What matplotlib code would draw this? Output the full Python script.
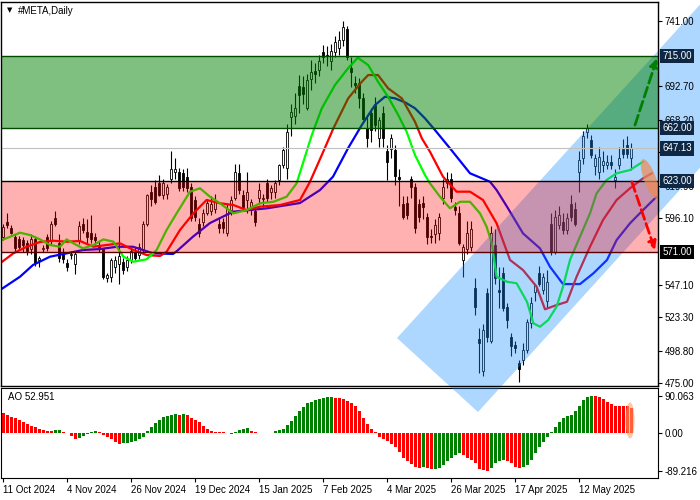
import matplotlib
matplotlib.use("Agg")
import matplotlib.pyplot as plt
import numpy as np
from matplotlib.patches import Polygon, Ellipse
from matplotlib.transforms import IdentityTransform, ScaledTranslation

plt.rcParams["font.family"] = ["Liberation Sans", "DejaVu Sans"]

# daily candles, 11 Oct 2024 .. end of May 2025
opens = [582, 593, 589, 582, 581, 580, 578, 573, 581, 565,
         573, 582, 579, 596, 578, 570, 563, 569, 562, 579,
         592, 586, 585, 582, 576, 573, 552, 553, 560, 562,
         564, 560, 565, 571, 569, 573, 592, 615, 619, 622,
         613, 614, 625, 630, 630, 629, 626, 619, 609, 592,
         593, 600, 601, 603, 592, 593, 585, 602, 611, 629,
         613, 609, 603, 601, 611, 610, 622, 615, 615, 624,
         635, 633, 670, 671, 693, 692, 677, 698, 704, 705,
         718, 716, 711, 718, 721, 727, 735, 706, 695, 695,
         684, 662, 673, 679, 655, 673, 645, 647, 646, 626,
         606, 607, 625, 619, 606, 607, 597, 583, 584, 585,
         611, 622, 625, 604, 600, 565, 573, 575, 545, 507,
         484, 541, 506, 576, 543, 556, 531, 509, 503, 490,
         492, 499, 519, 542, 556, 543, 535, 592, 571, 591,
         593, 587, 606, 603, 630, 640, 659, 653, 634, 630,
         635, 635, 637, 624, 635, 647, 650, 640]
highs = [592, 600, 591, 584, 583, 582, 580, 584, 583, 568,
         576, 584, 594, 601, 584, 574, 566, 572, 572, 594,
         596, 595, 598, 585, 579, 574, 556, 567, 568, 590,
         567, 568, 574, 575, 578, 594, 614, 620, 624, 628,
         625, 621, 645, 640, 633, 632, 633, 622, 612, 596,
         603, 610, 612, 614, 597, 596, 606, 612, 636, 636,
         617, 630, 610, 604, 622, 614, 625, 620, 624, 636,
         648, 665, 680, 688, 701, 700, 702, 712, 710, 716,
         723, 722, 724, 730, 733, 741, 737, 714, 700, 699,
         688, 670, 677, 685, 670, 678, 650, 658, 650, 632,
         612, 612, 627, 622, 610, 612, 600, 588, 595, 600,
         625, 630, 629, 608, 605, 577, 594, 594, 552, 515,
         518, 545, 590, 588, 560, 560, 534, 512, 506, 492,
         504, 522, 538, 548, 561, 556, 558, 600, 602, 605,
         600, 600, 613, 608, 645, 660, 665, 657, 643, 648,
         645, 642, 642, 632, 648, 654, 656, 651]
lows = [580, 589, 584, 572, 573, 571, 569, 570, 561, 560,
        571, 572, 577, 590, 564, 563, 557, 566, 555, 577,
        585, 578, 578, 576, 571, 551, 549, 549, 556, 548,
        555, 557, 563, 565, 566, 571, 590, 605, 606, 612,
        610, 610, 622, 625, 616, 616, 615, 594, 594, 582,
        590, 598, 598, 600, 585, 585, 583, 598, 609, 614,
        602, 600, 598, 590, 606, 604, 608, 610, 611, 620,
        633, 625, 656, 665, 673, 680, 675, 690, 695, 700,
        710, 708, 705, 714, 716, 722, 712, 692, 688, 677,
        668, 648, 652, 660, 648, 648, 624, 640, 620, 605,
        595, 595, 611, 585, 593, 595, 577, 578, 578, 580,
        606, 618, 608, 598, 576, 553, 570, 572, 525, 482,
        480, 505, 504, 548, 530, 528, 515, 495, 497, 476,
        488, 497, 515, 535, 546, 540, 530, 569, 570, 588,
        584, 584, 594, 590, 615, 636, 655, 640, 628, 625,
        630, 632, 632, 618, 632, 640, 640, 631]
closes = [589.5, 591, 585, 574, 575, 576, 572, 581, 563, 567,
          574, 574, 592, 592, 567, 566, 560, 570, 570, 590,
          587, 582, 581, 580, 573, 553, 554, 565, 565, 568,
          558, 565, 572, 567, 575, 592, 613, 610, 608, 613,
          622, 619, 632, 632, 618, 619, 618, 596, 597, 585,
          600, 607, 606, 608, 589, 589, 603, 609, 630, 617,
          604, 615, 608, 593, 617, 611, 611, 618, 622, 635,
          646, 659, 674, 677, 686, 687, 697, 703, 702, 711,
          714, 715, 719, 725, 727, 736, 714, 703, 694, 684,
          669, 655, 661, 664, 668, 655, 637, 655, 627, 625,
          597, 598, 619, 589, 597, 604, 582, 582, 591, 597,
          619, 625, 611, 602, 578, 575, 585, 588, 531, 504,
          514, 509, 585, 552, 542, 530, 521, 502, 501, 485,
          499, 520, 534, 547, 548, 553, 549, 571, 597, 598,
          587, 596, 597, 592, 639, 656, 662, 642, 640, 641,
          638, 637, 635, 626, 640, 643, 643, 647.13]

# Awesome Oscillator
ao = [48, 44, 40, 36, 32, 28, 22, 18, 14, 10,
      8, 6, 5.5, 7, 8, 4, 0.5, -6, -13, -12,
      -6, -2, 2, 6, 2, -4, -8, -14, -21, -25,
      -24, -23, -20, -18, -14, -8, 6, 14, 24, 32,
      38, 42, 45, 47, 45, 47, 44, 36, 32, 26,
      18, 10, 6, 4, 3, 2, 1.5, -1, 3, 8,
      11, 13, 6, 3, 1.5, 0.8, 0.5, 0.3, 5, 7,
      11, 20, 30, 41, 53, 64, 72, 75, 80, 82,
      84, 86, 87, 85, 84.5, 82, 78, 72, 65, 53,
      36, 22, 10, 2, -10, -14, -18, -26, -34, -45,
      -60, -66, -74, -81, -84, -80, -82, -86, -85.5, -84,
      -77, -66, -58, -52, -46, -52, -58, -64, -72, -85,
      -88, -89.216, -82, -72, -66, -64, -66, -72, -80, -84,
      -81, -76, -64, -48, -32, -22, -10, 4, 14, 26,
      36, 42, 45, 54, 66, 80, 86, 90.063, 89.5, 86,
      82, 74, 70, 66, 65.5, 65, 64.5, 60]

# Alligator lines (bar position, price)
jaw_bar = [-0.75, 4.25, 7.5, 11.75, 16, 20, 24.25, 28.5, 32.5, 35, 37.5, 42.5, 43.5,
           47.5, 51.75, 57.5, 66, 74.25, 79.25, 82.5, 86.25, 89.7, 93, 95.5, 98,
           100.5, 103, 105.5, 108, 111.75, 116.75, 121.75, 123.4, 126, 130, 134.25,
           136.75, 140, 144.25, 147.6, 151, 153.4, 156.75, 160, 163.25]
jaw = [543.2, 553.0, 561.6, 567.7, 570.2, 572.6, 573.3, 575.0, 575.0, 572.6, 570.2, 569.7, 571.9,
       582.4, 592.4, 600.7, 603.2, 607.1, 616.6, 626.4, 647.2, 664.3, 679.0, 685.1, 683.9,
       681.0, 676.6, 669.2, 660.6, 647.2, 628.9, 622.7, 616.6, 604.4, 584.8, 573.8,
       560.3, 547.6, 547.6, 555.5, 565.3, 579.9, 592.2, 601.9, 611.3]
teeth_bar = [-0.75, 2.6, 5.9, 9.25, 12.6, 15.9, 19.25, 22.6, 26, 29.25, 32.6, 35.9, 39.25,
             40.9, 44.25, 47.6, 50.9, 54.25, 57.6, 60.9, 64.25, 69.25, 74.25, 76.75,
             79.7, 82.6, 86.3, 89.7, 91.3, 93.75, 96.3, 99.7, 103, 104.7, 106.75, 110,
             113.4, 116.75, 120, 123.4, 126.75, 130, 133.4, 135.5, 138.4, 141, 143.4,
             146.75, 150, 153.4, 156.75, 160, 162.2]
teeth = [562.8, 570.2, 575.0, 578.5, 579.4, 578.7, 579.2, 575.0, 576.3, 577.5, 572.6, 568.9, 568.2,
         571.3, 587.3, 599.5, 609.3, 606.9, 605.6, 601.9, 604.4, 605.6, 609.3, 622.7,
         642.3, 661.9, 683.9, 696.1, 701.0, 701.0, 691.2, 683.9, 666.7, 654.6, 644.7, 626.4,
         615.4, 615.4, 609.3, 592.2, 565.3, 557.9, 545.7, 529.1, 532.2, 534.6, 553.0,
         575.0, 594.6, 609.3, 617.9, 625.2, 628.9]
lips_bar = [-0.75, 1.75, 4.25, 6.75, 9.25, 11.75, 14.25, 15.9, 17.6, 20, 22.6, 25.1, 27.6,
            30.1, 32.6, 35.9, 38.4, 40.9, 43.4, 46.75, 49.25, 51.75, 54.25, 57.6, 60.9,
            64.25, 67.6, 70.9, 73.4, 77.2, 79.7, 83, 86.25, 88.7, 91.3, 93.75, 96.25,
            98.8, 100.9, 103, 105.5, 106.75, 109.25, 111.75, 114.25, 116.75, 119.25,
            120.9, 122.2, 123.4, 126, 128.4, 131, 132.6, 134.25, 136.3, 138.4, 140,
            141.75, 144.25, 146.75, 148.4, 150.9, 153.4, 156.75, 160]
lips = [579.4, 582.3, 585.3, 583.6, 580.4, 576.3, 575.0, 580.4, 577.5, 573.8, 576.3, 580.4, 578.7,
        567.7, 564.0, 565.8, 572.6, 587.3, 599.5, 615.4, 617.9, 611.7, 606.9, 599.5, 601.9,
        606.9, 608.0, 611.7, 621.5, 657.0, 676.6, 693.7, 705.9, 713.7, 708.3, 696.1, 685.1,
        671.7, 659.4, 642.3, 627.6, 621.5, 611.7, 603.2, 608.0, 608.0, 599.5,
        589.7, 577.5, 553.0, 549.3, 548.2, 534.6, 518.8, 516.3, 521.2, 531.0, 545.7,
        565.3, 582.4, 599.5, 614.2, 624.0, 628.9, 631.3, 637.4]

date_labels = ["11 Oct 2024", "4 Nov 2024", "26 Nov 2024", "19 Dec 2024", "15 Jan 2025",
               "7 Feb 2025", "4 Mar 2025", "26 Mar 2025", "17 Apr 2025", "12 May 2025"]
bars_per_label = 16
price_ticks = [741.0, 692.7, 668.2, 644.3, 619.9, 596.1, 547.1, 523.3, 498.8, 475.0]
levels = [715.0, 662.0, 647.13, 623.0, 571.0]
level_colors = ["#0d2744", "#0d2744", "#0d2744", "#0d2744", "#000000"]
last_price = 647.13
ao_label = "AO 52.951"

o = np.array(opens, float)
h = np.array(highs, float)
l = np.array(lows, float)
c = np.array(closes, float)
x = np.arange(len(c))

fig = plt.figure(figsize=(7, 5), dpi=100)
ax_ao = fig.add_axes([1 / 700, 1 - 478.3 / 500, 657 / 700, 90 / 500])
ax = fig.add_axes([1 / 700, 1 - 386 / 500, 657 / 700, 384 / 500])

# candles
up = c >= o
ax.vlines(x, l, h, color="black", lw=0.8, zorder=2)
body = np.maximum(np.abs(c - o), 0.5)
ax.bar(x, body, bottom=np.minimum(o, c), width=0.7,
       color=np.where(up, "white", "black"), edgecolor="black", lw=0.6, zorder=3)

# alligator
ax.plot(jaw_bar, jaw, color="#0000ff", lw=1.6, zorder=4)
ax.plot(teeth_bar, teeth, color="#ff0000", lw=1.6, zorder=4)
ax.plot(lips_bar, lips, color="#00ff00", lw=1.6, zorder=4)

# rising channel
step = 3.23
a0 = (98.5, 508.0)
b0 = (118.75, 453.7)
n = 90
chan = [a0, b0, (b0[0] + n, b0[1] + n * step), (a0[0] + n, a0[1] + n * step)]
ax.add_patch(Polygon(chan, closed=True, fc=(30 / 255, 144 / 255, 1.0), alpha=0.36,
                     lw=0, zorder=5, clip_on=False))

# zones
ax.axhspan(662, 715, color=(0, 0.5, 0), alpha=0.5, lw=0, zorder=6)
ax.axhspan(571, 623, color=(1, 0, 0), alpha=0.31, lw=0, zorder=6)
ax.axhline(715, color="#004a00", lw=1, zorder=7)
ax.axhline(662, color="#004a00", lw=1, zorder=7)
ax.axhline(623, color="#000000", lw=1, zorder=7)
ax.axhline(571, color="#5a0000", lw=1, zorder=7)
ax.axhline(last_price, color="#c0c0c0", lw=0.8, zorder=7)

# forecast arrows
ax.annotate("", xy=(163.5, 713.3), xytext=(158, 664.3), zorder=9,
            arrowprops=dict(arrowstyle="-|>", color="#008000", lw=2, ls="--",
                            mutation_scale=12, shrinkA=0, shrinkB=0))
ax.annotate("", xy=(163, 572.6), xytext=(157.2, 622.7), zorder=9,
            arrowprops=dict(arrowstyle="-|>", color="#ff0000", lw=2, ls="--",
                            mutation_scale=12, shrinkA=0, shrinkB=0))

# orange highlight on last bars
tr = IdentityTransform() + ScaledTranslation(161.75, 624.7, ax.transData)
ax.add_patch(Ellipse((0, 0), 42, 12, angle=-70, transform=tr,
                     fc="#f08a50", alpha=0.7, lw=0, zorder=8))

ax.set_xlim(-0.5, 163.75)
ax.set_ylim(472.8, 754.6)
ax.yaxis.tick_right()
ax.set_yticks(price_ticks)
ax.set_yticklabels([f"{v:.2f}" for v in price_ticks])
ax.tick_params(axis="y", direction="out", length=3, width=0.8, labelsize=7, pad=2)
ax.tick_params(axis="x", bottom=False, labelbottom=False)
ax.yaxis.set_zorder(10)
for s in ax.spines.values():
    s.set_zorder(8)
    s.set_linewidth(1)

for v, col in zip(levels, level_colors):
    ax.text(1.007, v, f"{v:.2f}", transform=ax.get_yaxis_transform(), ha="left",
            va="center", color="white", fontsize=7, zorder=12, clip_on=False,
            bbox=dict(boxstyle="square,pad=0.22", fc=col, ec="none"))

fig.text(7 / 700, 1 - 10 / 500, "\u25bc", fontsize=5, family="DejaVu Sans", va="center")
fig.text(18 / 700, 1 - 10.5 / 500, "#META,Daily", fontsize=7, va="center")

# AO panel
ao_arr = np.array(ao, float)
rising = np.r_[False, ao_arr[1:] > ao_arr[:-1]]
ax_ao.bar(x, ao_arr, width=0.75, color=np.where(rising, "#008000", "#ff0000"), lw=0)
tr2 = IdentityTransform() + ScaledTranslation(156.75, 30.7, ax_ao.transData)
ax_ao.add_patch(Ellipse((0, 0), 9, 36, transform=tr2, fc="#ffa060", alpha=0.6, lw=0, zorder=5))
ax_ao.set_xlim(-0.5, 163.75)
ax_ao.set_ylim(-107.8, 107.8)
ax_ao.yaxis.tick_right()
ax_ao.set_yticks([max(ao), 0, min(ao)])
ax_ao.set_yticklabels([f"{max(ao):.3f}", "0.00", f"{min(ao):.3f}"])
ax_ao.tick_params(axis="y", direction="out", length=3, width=0.8, labelsize=7, pad=2)
ax_ao.set_xticks(np.arange(len(date_labels)) * bars_per_label)
ax_ao.set_xticklabels(date_labels)
ax_ao.tick_params(axis="x", direction="out", length=3, width=0.8, labelsize=7, pad=2)
for lbl in ax_ao.get_xticklabels():
    lbl.set_horizontalalignment("left")
ax_ao.text(0.011, 0.9, ao_label, transform=ax_ao.transAxes, fontsize=7, va="center")

fig.savefig("out.png", dpi=100, facecolor="white")
